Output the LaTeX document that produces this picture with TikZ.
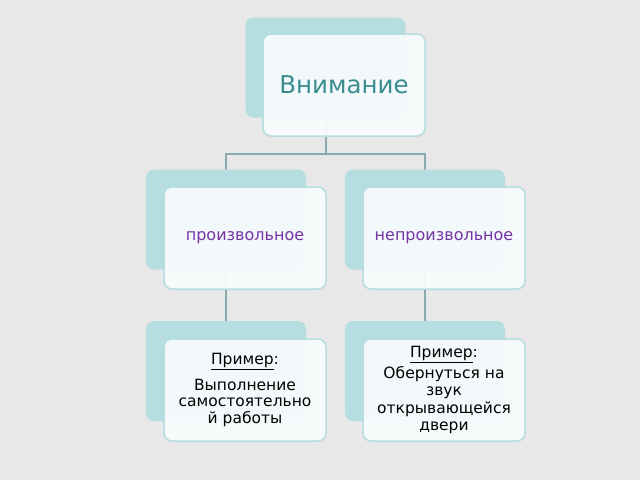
\documentclass[tikz,border=0pt]{standalone}
\usepackage{fontspec}
\setmainfont{DejaVu Sans}
\usetikzlibrary{calc}
\definecolor{backteal}{HTML}{B6DEE1}
\definecolor{frontfill}{HTML}{F9FCFD}
\definecolor{linkgrey}{HTML}{8AABAC}
\definecolor{titleteal}{HTML}{3A8C8F}
\definecolor{kindpurple}{HTML}{7434A6}
\definecolor{paper}{HTML}{E8E8E8}
\tikzset{
  backcard/.style={draw=none, fill=backteal, rounded corners=8pt, minimum width=160pt, minimum height=100pt},
  frontcard/.style={draw=backteal, line width=1.5pt, fill=frontfill, fill opacity=0.92, text opacity=1, rounded corners=8pt, minimum width=162pt, minimum height=102pt, align=center},
  link/.style={draw=linkgrey, line width=2pt}
}
\begin{document}
\begin{tikzpicture}[x=1pt, y=-1pt]
				\fill[paper] (0,0) rectangle (640,480);
				\useasboundingbox (0,0) rectangle (640,480);
				\coordinate (attn) at (325.5,67.5);
				\coordinate (vol) at (226,219.5);
				\coordinate (invol) at (425,219.5);
				\coordinate (exVol) at (226,371);
				\coordinate (exInvol) at (425,371);
				\coordinate (fork) at (325.5,154);
				\draw[link] (attn) -- (fork) -| (vol);
				\draw[link] (fork) -| (invol);
				\draw[link] (vol) -- (exVol);
				\draw[link] (invol) -- (exInvol);
				\node[backcard] (attnBack) at (attn) {};
				\node[frontcard, font=\fontsize{24.5}{29}\selectfont, text=titleteal] (attnFront) at ($(attn)+(18.5,17.5)$) {Внимание};
				\node[backcard] (volBack) at (vol) {};
				\node[frontcard, font=\fontsize{16}{19}\selectfont, text=kindpurple] (volFront) at ($(vol)+(19,18.5)$) {произвольное};
				\node[backcard] (involBack) at (invol) {};
				\node[frontcard, font=\fontsize{16}{19}\selectfont, text=kindpurple] (involFront) at ($(invol)+(19,18.5)$) {непроизвольное};
				\node[backcard] (exVolBack) at (exVol) {};
				\node[frontcard, font=\fontsize{15.5}{16.5}\selectfont] (exVolFront) at ($(exVol)+(19,19)$) {\underline{Пример}:\\[8pt] Выполнение\\ самостоятельно\\ й работы};
				\node[backcard] (exInvolBack) at (exInvol) {};
				\node[frontcard, font=\fontsize{15.5}{17.5}\selectfont] (exInvolFront) at ($(exInvol)+(19,19)$) {\underline{Пример}:\\[3pt] Обернуться на\\ звук\\ открывающейся\\ двери};
			\end{tikzpicture}
\end{document}
